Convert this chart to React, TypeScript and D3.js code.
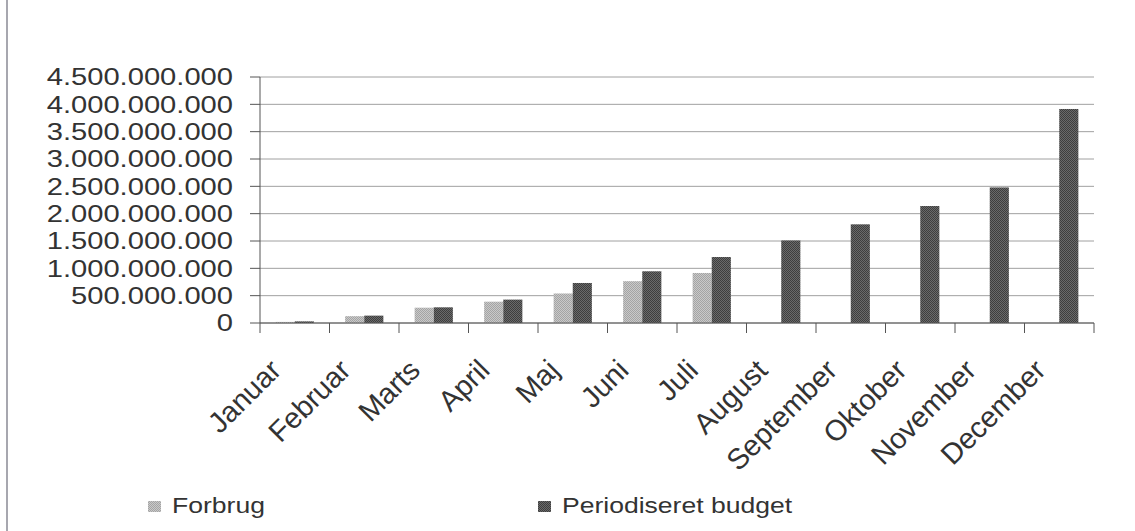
import * as React from 'react';
import * as d3 from 'd3';

const months = ['Januar', 'Februar', 'Marts', 'April', 'Maj', 'Juni', 'Juli', 'August', 'September', 'Oktober', 'November', 'December'];
const forbrug = [20e6, 125e6, 280e6, 390e6, 540e6, 765e6, 915e6, null, null, null, null, null];
const budget = [30e6, 135e6, 287e6, 428e6, 732e6, 946e6, 1207e6, 1510e6, 1805e6, 2140e6, 2480e6, 3915e6];
const yTicks = [0, 500e6, 1000e6, 1500e6, 2000e6, 2500e6, 3000e6, 3500e6, 4000e6, 4500e6];
const seriesNames = ['Forbrug', 'Periodiseret budget'];

const W = 1135;
const H = 531;
const left = 260;
const right = 1094;
const top = 77;
const bottom = 323;

const fmt = (v: number) => v === 0 ? '0' : d3.format(',')(v).replace(/,/g, '.');

export default function App() {
  const x = d3.scaleBand<string>().domain(months).range([left, right]).paddingInner(0.45).paddingOuter(0.225);
  const x1 = d3.scaleBand<string>().domain(seriesNames).range([0, x.bandwidth()]);
  const y = d3.scaleLinear().domain([0, 4500e6]).range([bottom, top]);
  const step = x.step();
  const textCol = '#333';

  return (
    <svg width={W} height={H} style={{ position: 'absolute', left: 0, top: 0, background: '#fff' }}>
      <defs>
        <pattern id="pLight" width="2" height="2" patternUnits="userSpaceOnUse">
          <rect width="2" height="2" fill="#c9c9c9" />
          <rect width="1" height="1" fill="#a4a4a4" />
          <rect x="1" y="1" width="1" height="1" fill="#a4a4a4" />
        </pattern>
        <pattern id="pDark" width="2" height="2" patternUnits="userSpaceOnUse">
          <rect width="2" height="2" fill="#6a6a6a" />
          <rect width="1" height="1" fill="#3e3e3e" />
          <rect x="1" y="1" width="1" height="1" fill="#3e3e3e" />
        </pattern>
      </defs>
      <line x1={7} x2={7} y1={0} y2={H} stroke="#8a8a94" strokeWidth={1.5} />

      {yTicks.map(t => (
        <g key={t}>
          <line x1={left} x2={right} y1={y(t)} y2={y(t)} stroke="#a0a0a0" strokeWidth={1} />
          <line x1={left - 10} x2={left} y1={y(t)} y2={y(t)} stroke="#555" strokeWidth={1} />
          <text transform={`translate(233,${y(t)}) scale(1.19,1)`} textAnchor="end" dominantBaseline="central"
            fontFamily="Liberation Sans, Arial, sans-serif" fontSize={24.5} fill={textCol}>{fmt(t)}</text>
        </g>
      ))}

      {months.map((m, i) => (
        <g key={m}>
          {forbrug[i] != null && (
            <rect x={x(m)! + x1('Forbrug')!} width={x1.bandwidth()} y={y(forbrug[i] as number)}
              height={bottom - y(forbrug[i] as number)} fill="url(#pLight)" />
          )}
          <rect x={x(m)! + x1('Periodiseret budget')!} width={x1.bandwidth()} y={y(budget[i])}
            height={bottom - y(budget[i])} fill="url(#pDark)" />
        </g>
      ))}

      <line x1={left} x2={left} y1={top} y2={bottom} stroke="#555" strokeWidth={1} />
      <line x1={left} x2={right} y1={bottom} y2={bottom} stroke="#555" strokeWidth={1} />
      {d3.range(months.length + 1).map(i => (
        <line key={i} x1={left + i * step} x2={left + i * step} y1={bottom} y2={bottom + 10} stroke="#555" strokeWidth={1} />
      ))}

      {months.map(m => {
        const cx = x(m)! + x.bandwidth() / 2;
        return (
          <text key={m} transform={`translate(${cx - 12},${bottom + 49}) rotate(-45)`} textAnchor="end"
            fontFamily="Liberation Sans, Arial, sans-serif" fontSize={29} fill={textCol}>{m}</text>
        );
      })}

      {seriesNames.map((s, i) => {
        const lx = i === 0 ? 148 : 538;
        return (
          <g key={s}>
            <rect x={lx} y={501} width={13} height={11} fill={i === 0 ? 'url(#pLight)' : 'url(#pDark)'} />
            <text transform={`translate(${lx + 24},513) scale(1.18,1)`} fontFamily="Liberation Sans, Arial, sans-serif"
              fontSize={22.5} fill={textCol}>{s}</text>
          </g>
        );
      })}
    </svg>
  );
}
